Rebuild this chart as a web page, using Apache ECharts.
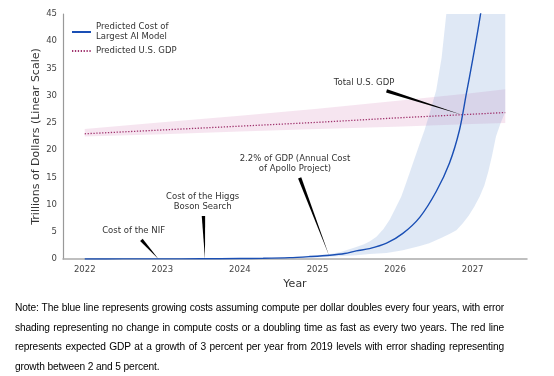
<!DOCTYPE html>
<html>
<head>
<meta charset="utf-8">
<script src="https://cdn.jsdelivr.net/npm/echarts@6/dist/echarts.min.js"></script>
<style>
  html, body { margin: 0; padding: 0; background: #fff; }
  #chart { position: absolute; left: 0; top: 0; width: 554px; height: 376px; }
  #note {
    position: absolute; left: 15px; top: 298px; width: 489px;
    font-family: "Liberation Sans", Arial, sans-serif; font-size: 10.2px;
    letter-spacing: -0.13px; line-height: 19.7px; color: #000;
  }
  #note div { text-align: justify; text-align-last: justify; white-space: nowrap; }
  #note div.last { text-align-last: left; }
</style>
</head>
<body>
<div id="chart"></div>
<div id="note">
  <div>Note: The blue line represents growing costs assuming compute per dollar doubles every four years, with error</div>
  <div>shading representing no change in compute costs or a doubling time as fast as every two years. The red line</div>
  <div>represents expected GDP at a growth of 3 percent per year from 2019 levels with error shading representing</div>
  <div class="last">growth between 2 and 5 percent.</div>
</div>
<script>
// 预测的最大AI模型成本 [年份, 万亿美元]
const aiCost = [
  [2022, 0.01], [2022.5, 0.015], [2023, 0.02], [2023.5, 0.04], [2024, 0.08],
  [2024.3, 0.13], [2024.64, 0.25], [2024.9, 0.45], [2025.16, 0.7], [2025.35, 1.0],
  [2025.5, 1.5], [2025.67, 1.9], [2025.89, 2.9], [2026.1, 4.7], [2026.32, 7.7],
  [2026.53, 12.4], [2026.7, 17.6], [2026.83, 23.7], [2026.92, 30.5], [2027.0, 36.6],
  [2027.11, 45.8], [2027.2, 56]
]
// 误差带上沿 / 下沿
const aiUpper = [
  [2022, 0.01], [2023, 0.03], [2024, 0.1], [2024.5, 0.25], [2024.9, 0.6],
  [2025.16, 0.9], [2025.3, 1.3], [2025.5, 2.2], [2025.6, 2.7], [2025.67, 3.2],
  [2025.76, 4.1], [2025.85, 5.5], [2025.93, 7.2], [2026.0, 9.2], [2026.08, 11.5],
  [2026.15, 14.3], [2026.23, 17.6], [2026.3, 20.5], [2026.38, 23.7], [2026.45, 27],
  [2026.53, 31], [2026.6, 37], [2026.66, 45], [2026.8, 62], [2027.42, 200]
]
const aiLower = [
  [2022, 0.005], [2023, 0.01], [2024, 0.04], [2024.5, 0.1], [2025, 0.3],
  [2025.16, 0.4], [2025.5, 0.7], [2025.67, 0.9], [2025.89, 1.1], [2026.1, 1.6],
  [2026.32, 2.4], [2026.44, 2.9], [2026.6, 3.9], [2026.7, 4.6], [2026.79, 5.3],
  [2026.87, 6.5], [2026.95, 8], [2027.02, 9.6], [2027.09, 11.5], [2027.15, 13.5],
  [2027.2, 16], [2027.25, 19], [2027.3, 22.5], [2027.36, 25], [2027.42, 27]
]
// 美国GDP
const gdpYears = [2022, 2023, 2024, 2025, 2026, 2027, 2027.42]
const gdpMid = [23.0, 23.7, 24.4, 25.1, 25.9, 26.6, 26.9]
const gdpHigh = [23.9, 25.1, 26.3, 27.6, 29.0, 30.5, 31.2]
const gdpLow = [22.5, 22.9, 23.4, 23.9, 24.3, 24.8, 25.0]

const yearTicks = [2022, 2023, 2024, 2025, 2026, 2027]

// 注释: 文字位置, 箭头起点, 箭头终点 (数据坐标)
const notes = [
  { text: 'Total U.S. GDP', at: [2025.6, 32.3], from: [2025.89, 30.9], to: [2026.86, 26.5] },
  { text: '2.2% of GDP (Annual Cost\nof Apollo Project)', at: [2024.71, 17.5], from: [2024.77, 14.9], to: [2025.15, 0.6] },
  { text: 'Cost of the Higgs\nBoson Search', at: [2023.52, 10.5], from: [2023.53, 7.9], to: [2023.55, 0] },
  { text: 'Cost of the NIF', at: [2022.63, 5.1], from: [2022.73, 3.5], to: [2022.95, 0] }
]

const FONT = 'DejaVu Sans'

function bandItem(upper, lower, color) {
  return function (params, api) {
    if (params.dataIndex !== 0) return null
    const pts = upper.map(p => api.coord(p)).concat(lower.slice().reverse().map(p => api.coord(p)))
    return { type: 'polygon', shape: { points: pts }, style: { fill: color } }
  }
}

const gdpPairs = arr => gdpYears.map((y, i) => [y, arr[i]])

const myChart = echarts.init(document.getElementById('chart'))
const option = {
  animation: false,
  grid: { left: 63, right: 27, top: 14, bottom: 117 },
  legend: {
    orient: 'vertical',
    left: 66,
    top: 17,
    itemWidth: 19,
    itemHeight: 8,
    itemGap: 4,
    itemStyle: { opacity: 0 },
    textStyle: { fontFamily: FONT, fontSize: 8.5, color: '#333', lineHeight: 10 },
    data: ['Predicted Cost of\nLargest AI Model', 'Predicted U.S. GDP']
  },
  xAxis: {
    type: 'value',
    min: 2021.72,
    max: 2027.7,
    name: 'Year',
    nameLocation: 'middle',
    nameGap: 20,
    nameMoveOverlap: false,
    nameTextStyle: { fontFamily: FONT, fontSize: 11, color: '#333' },
    axisLine: { show: true, lineStyle: { color: '#aaa', width: 1.5 } },
    axisTick: { show: false, customValues: yearTicks },
    splitLine: { show: false },
    axisLabel: {
      customValues: yearTicks,
      formatter: v => String(v),
      fontFamily: FONT, fontSize: 8.5, color: '#444', margin: 6
    }
  },
  yAxis: {
    type: 'value',
    min: 0,
    max: 45,
    interval: 5,
    name: 'Trillions of Dollars (Linear Scale)',
    nameLocation: 'middle',
    nameGap: 21,
    nameMoveOverlap: false,
    nameTextStyle: { fontFamily: FONT, fontSize: 11, color: '#333' },
    axisLine: { show: true, lineStyle: { color: '#999', width: 1.2 } },
    axisTick: { show: false },
    splitLine: { show: false },
    axisLabel: { fontFamily: FONT, fontSize: 8.5, color: '#444', margin: 6 }
  },
  series: [
    {
      type: 'custom',
      name: 'gdpBand',
      clip: true,
      renderItem: bandItem(gdpPairs(gdpHigh), gdpPairs(gdpLow), 'rgba(205, 110, 170, 0.18)'),
      data: [[2022, 0]],
      silent: true,
      z: 1
    },
    {
      type: 'custom',
      name: 'aiBand',
      clip: true,
      renderItem: bandItem(aiUpper, aiLower, 'rgba(120, 160, 215, 0.24)'),
      data: [[2022, 0]],
      silent: true,
      z: 2
    },
    {
      type: 'line',
      name: 'Predicted U.S. GDP',
      data: gdpPairs(gdpMid),
      symbol: 'none',
      lineStyle: { color: '#a0346e', width: 1.3, type: [1.3, 1.6] },
      itemStyle: { color: '#a0346e' },
      z: 3
    },
    {
      type: 'line',
      name: 'Predicted Cost of\nLargest AI Model',
      data: aiCost,
      symbol: 'none',
      smooth: 0.3,
      clip: true,
      lineStyle: { color: '#1a4fb5', width: 1.4 },
      itemStyle: { color: '#1a4fb5' },
      z: 4
    },
    {
      type: 'custom',
      name: 'notes',
      clip: false,
      data: notes.map((n, i) => [n.at[0], n.at[1], i]),
      renderItem: function (params, api) {
        const n = notes[params.dataIndex]
        const t = api.coord(n.at)
        const a = api.coord(n.from)
        const b = api.coord(n.to)
        const dx = b[0] - a[0]
        const dy = b[1] - a[1]
        const len = Math.sqrt(dx * dx + dy * dy)
        const nx = -dy / len * 1.7
        const ny = dx / len * 1.7
        return {
          type: 'group',
          children: [
            {
              type: 'polygon',
              shape: { points: [[a[0] + nx, a[1] + ny], [a[0] - nx, a[1] - ny], [b[0], b[1]]] },
              style: { fill: '#000' }
            },
            {
              type: 'text',
              x: t[0],
              y: t[1],
              style: {
                text: n.text,
                fontFamily: FONT,
                fontSize: 8.5,
                lineHeight: 10.5,
                fill: '#333',
                align: 'center',
                verticalAlign: 'middle'
              }
            }
          ]
        }
      },
      z: 5
    }
  ]
}
myChart.setOption(option)
</script>
</body>
</html>
